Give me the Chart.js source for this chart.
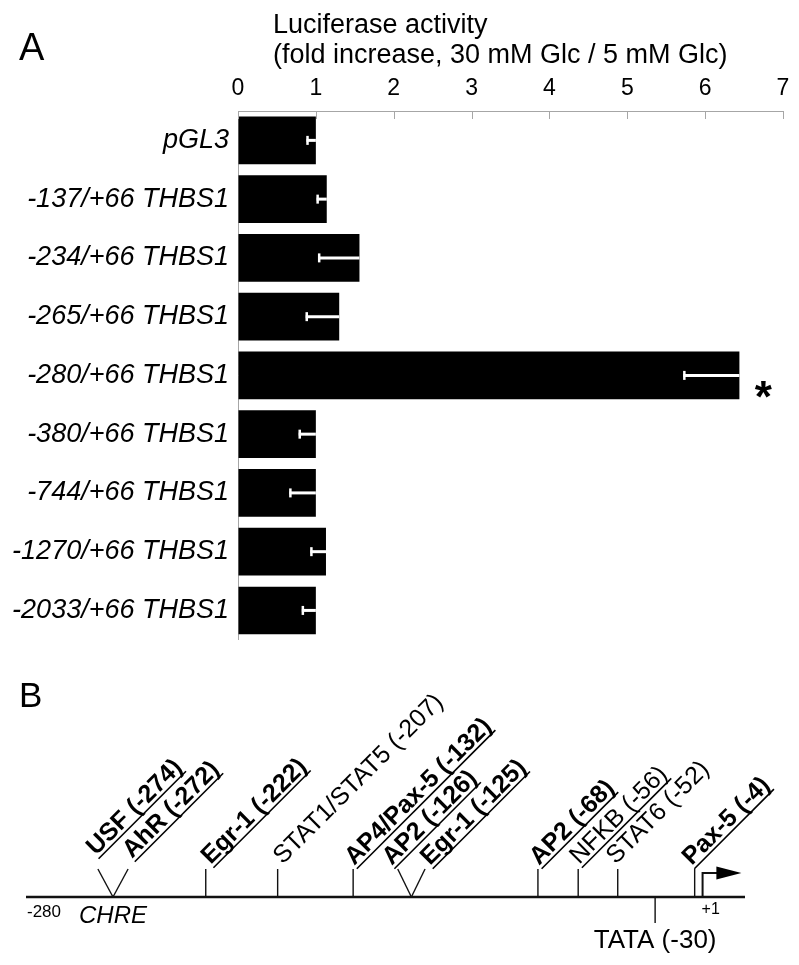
<!DOCTYPE html>
<html>
<head>
<meta charset="utf-8">
<title>THBS1 promoter – luciferase activity</title>
<script src="https://cdn.jsdelivr.net/npm/chart.js@4.4.1/dist/chart.umd.min.js"></script>
<style>
  html, body { margin: 0; padding: 0; background: #fff; }
  #wrap { position: relative; width: 799px; height: 965px; }
  #barChart { position: absolute; left: 0; top: 0; }
  #mapChart { position: absolute; left: 0; top: 665px; }
</style>
</head>
<body>
<div id="wrap">
  <canvas id="barChart" width="799" height="665"></canvas>
  <canvas id="mapChart" width="799" height="300"></canvas>
</div>
<script>
// ── Panel A data: fold increase (30 mM / 5 mM Glc) per construct ─────────────
const constructs = ['pGL3', '-137/+66 THBS1', '-234/+66 THBS1', '-265/+66 THBS1', '-280/+66 THBS1',
                    '-380/+66 THBS1', '-744/+66 THBS1', '-1270/+66 THBS1', '-2033/+66 THBS1'];
const foldIncrease = [1.0, 1.14, 1.56, 1.30, 6.44, 1.0, 1.0, 1.13, 1.0];
const foldError    = [0.12, 0.13, 0.53, 0.43, 0.72, 0.22, 0.34, 0.20, 0.18];
const significant  = [false, false, false, false, true, false, false, false, false];
const axisTicks    = [0, 1, 2, 3, 4, 5, 6, 7];
const axisTitle    = ['Luciferase activity', '(fold increase, 30 mM Glc / 5 mM Glc)'];

// ── Panel B data: promoter map (-280 … +1), positions along the drawn track 0–100
const siteLabels    = ['USF (-274)', 'AhR (-272)', 'Egr-1 (-222)', 'STAT1/STAT5 (-207)', 'AP4/Pax-5 (-132)',
                       'AP2 (-126)', 'Egr-1 (-125)', 'AP2 (-68)', 'NFKB (-56)', 'STAT6 (-52)', 'Pax-5 (-4)'];
const siteTop       = [10.0, 14.2, 25.0, 35.0, 45.5, 51.7, 55.5, 71.2, 76.8, 82.3, 93.0];
const siteBase      = [12.1, 12.1, 25.0, 35.0, 45.5, 53.6, 53.6, 71.2, 76.8, 82.3, 93.0];
const siteBold      = [true, true, true, false, true, true, true, true, false, false, true];
const siteUnderline = [true, true, true, false, true, true, true, true, true, false, true];
const tataLabel = 'TATA (-30)';
const tataPos   = 87.5;
const startPos  = 94.1;   // +1, transcription start
const arrowEnd  = 99.5;
const trackStartLabel = '-280';
const chreLabel = 'CHRE';

// ── Style ──────────────────────────────────────────────────────────────────────
const FONT = '"Liberation Sans", Arial, Helvetica, sans-serif';
const AXIS_GRAY = '#a6a6a6';
// label origin shift (px) from the tick top, per site
const labelShift = [[-2, -13], [4, -10], [5, -4], [5, -4], [1, -3], [-6, -3], [5, -3], [1, -3], [1, -4], [-2, -4], [-3, -3]];

// ── Panel A plugin: error bars, asterisk, inner ticks, titles ──────────────────
const panelAPlugin = {
    id: 'panelA',
    afterDatasetsDraw(chart) {
        const { ctx } = chart;
        const xs = chart.scales.x;
        const meta = chart.getDatasetMeta(0);
        ctx.save();
        meta.data.forEach((bar, i) => {
            const x0 = xs.getPixelForValue(foldIncrease[i] - foldError[i]);
            ctx.strokeStyle = '#fff';
            ctx.lineWidth = 3;
            ctx.beginPath();
            ctx.moveTo(bar.x, bar.y);
            ctx.lineTo(x0, bar.y);
            ctx.stroke();
            ctx.lineWidth = 2.5;
            ctx.beginPath();
            ctx.moveTo(x0 + 1, bar.y - 4.5);
            ctx.lineTo(x0 + 1, bar.y + 4.5);
            ctx.stroke();
            if (significant[i]) {
                ctx.fillStyle = '#000';
                ctx.font = 'bold 44px ' + FONT;
                ctx.textAlign = 'center';
                ctx.textBaseline = 'alphabetic';
                ctx.fillText('*', bar.x + 24, bar.y + 37);
            }
        });
        ctx.restore();
    },
    afterDraw(chart) {
        const { ctx, chartArea } = chart;
        const xs = chart.scales.x;
        ctx.save();
        // short tick marks pointing into the plot
        ctx.strokeStyle = AXIS_GRAY;
        ctx.lineWidth = 1;
        axisTicks.forEach(v => {
            const px = Math.round(xs.getPixelForValue(v)) + 0.5;
            ctx.beginPath();
            ctx.moveTo(px, chartArea.top);
            ctx.lineTo(px, chartArea.top + 8);
            ctx.stroke();
        });
        ctx.fillStyle = '#000';
        ctx.textAlign = 'left';
        ctx.textBaseline = 'alphabetic';
        ctx.font = '27px ' + FONT;
        ctx.fillText(axisTitle[0], 273, 33);
        ctx.fillText(axisTitle[1], 273, 63);
        ctx.font = '38px ' + FONT;
        ctx.fillText('A', 19, 60);
        ctx.restore();
    },
};

new Chart(document.getElementById('barChart'), {
    type: 'bar',
    data: {
        labels: constructs,
        datasets: [{
            data: foldIncrease,
            backgroundColor: '#000',
            borderWidth: 0,
            barPercentage: 0.81,
            categoryPercentage: 1,
        }],
    },
    options: {
        indexAxis: 'y',
        responsive: false,
        animation: false,
        devicePixelRatio: 1,
        layout: { padding: { top: 0, left: 0, right: 16, bottom: 8 } },
        plugins: { legend: { display: false }, tooltip: { enabled: false } },
        scales: {
            x: {
                position: 'top',
                min: 0, max: 7,
                afterFit: (s) => { s.height = 111; },
                grid: { drawOnChartArea: false, drawTicks: false },
                border: { display: true, color: AXIS_GRAY, width: 1 },
                ticks: {
                    stepSize: 1, padding: 9, color: '#000',
                    font: { family: FONT, size: 23 },
                    callback: (v) => axisTicks.includes(v) ? String(v) : '',
                },
            },
            y: {
                afterFit: (s) => { s.width = 238; },
                grid: { display: false, drawTicks: false },
                border: { display: true, color: AXIS_GRAY, width: 1 },
                ticks: { padding: 9, color: '#000', font: { family: FONT, size: 27, style: 'italic' } },
            },
        },
    },
    plugins: [panelAPlugin],
});

// ── Panel B: promoter map ──────────────────────────────────────────────────────
function seg(points, width) {
    return {
        data: points, showLine: true, borderColor: '#111', borderWidth: width,
        pointRadius: 0, fill: false, clip: false,
    };
}

const mapDatasets = [seg([{ x: 0, y: 0 }, { x: 100, y: 0 }], 2.5)];
siteLabels.forEach((_, i) => {
    mapDatasets.push(seg([{ x: siteTop[i], y: 1 }, { x: siteBase[i], y: 0 }], 1.4));
});
mapDatasets.push(seg([{ x: tataPos, y: 0 }, { x: tataPos, y: -0.93 }], 1.4));
mapDatasets.push(seg([{ x: startPos, y: 0 }, { x: startPos, y: 0.86 }, { x: arrowEnd - 1.6, y: 0.86 }], 2));

const panelBPlugin = {
    id: 'panelB',
    afterDatasetsDraw(chart) {
        const { ctx } = chart;
        const xs = chart.scales.x, ys = chart.scales.y;
        const y0 = ys.getPixelForValue(0);
        ctx.save();
        ctx.fillStyle = '#000';
        ctx.textBaseline = 'alphabetic';

        // rotated site labels
        siteLabels.forEach((txt, i) => {
            const ox = xs.getPixelForValue(siteTop[i]) + labelShift[i][0];
            const oy = ys.getPixelForValue(1) + labelShift[i][1];
            ctx.save();
            ctx.translate(ox, oy);
            ctx.rotate(-Math.PI / 4);
            ctx.font = (siteBold[i] ? 'bold ' : '') + '25px ' + FONT;
            ctx.textAlign = 'left';
            ctx.fillText(txt, 0, 0);
            if (siteUnderline[i]) {
                ctx.fillRect(0, 3, ctx.measureText(txt).width, 1.6);
            }
            ctx.restore();
        });

        // arrowhead at +1
        const ay = ys.getPixelForValue(0.86);
        const ax = xs.getPixelForValue(arrowEnd);
        ctx.beginPath();
        ctx.moveTo(ax, ay);
        ctx.lineTo(ax - 25, ay - 6.5);
        ctx.lineTo(ax - 25, ay + 6.5);
        ctx.closePath();
        ctx.fill();

        ctx.font = '17px ' + FONT;
        ctx.textAlign = 'left';
        ctx.fillText(trackStartLabel, xs.getPixelForValue(0) + 1, y0 + 20);
        ctx.font = '16px ' + FONT;
        ctx.fillText('+1', xs.getPixelForValue(startPos) - 1, y0 + 17);
        ctx.font = 'italic 24px ' + FONT;
        ctx.textAlign = 'center';
        ctx.fillText(chreLabel, xs.getPixelForValue(siteBase[0]), y0 + 26);
        ctx.font = '26px ' + FONT;
        ctx.fillText(tataLabel, xs.getPixelForValue(tataPos), y0 + 51);
        ctx.font = '35px ' + FONT;
        ctx.textAlign = 'left';
        ctx.fillText('B', 19, 42);
        ctx.restore();
    },
};

new Chart(document.getElementById('mapChart'), {
    type: 'scatter',
    data: { datasets: mapDatasets },
    options: {
        responsive: false,
        animation: false,
        devicePixelRatio: 1,
        layout: { padding: { left: 26, right: 54, top: 0, bottom: 0 } },
        plugins: { legend: { display: false }, tooltip: { enabled: false } },
        scales: {
            x: { type: 'linear', display: false, min: 0, max: 100 },
            y: { type: 'linear', display: false, min: -2.43, max: 8.29 },
        },
    },
    plugins: [panelBPlugin],
});
</script>
</body>
</html>
